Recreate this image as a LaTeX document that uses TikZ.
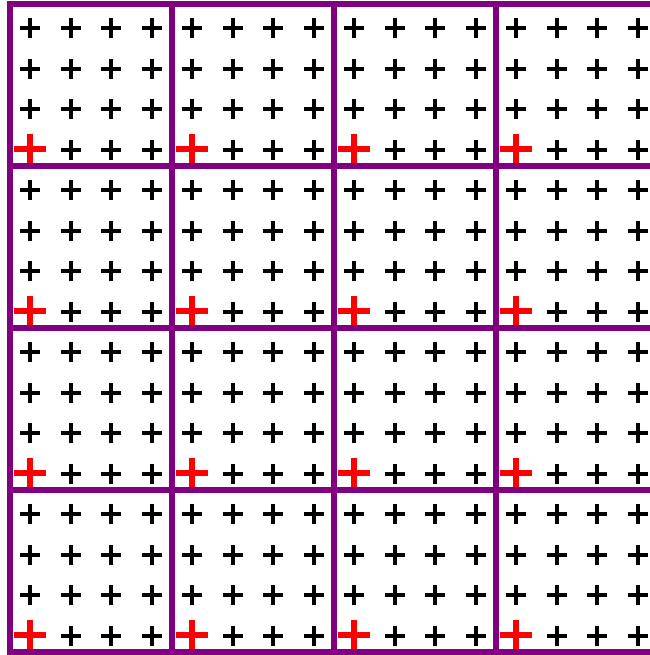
\documentclass[tikz,border=0pt]{standalone}

\definecolor{frame}{HTML}{800080}
\definecolor{origin}{HTML}{FF0000}

\begin{document}
\begin{tikzpicture}[
  x=1cm, y=1cm,
  line join=miter,
  frame/.style={draw=frame, line width=3.8pt, line cap=rect},
  cross/.style={draw=black, line width=2.8pt},
  corner/.style={draw=origin, line width=4.1pt},
]
\useasboundingbox (-0.247,-0.074) rectangle (15.802,16.099);
\clip (-0.247,-0.074) rectangle (15.802,16.099);
% small crosses, the first one of every block in red
\foreach \i in {0,...,15}
  \foreach \j in {0,...,15} {
    \pgfmathtruncatemacro{\first}{(mod(\i,4)==0)&&(mod(\j,4)==0)}
    \ifnum\first=1
      \draw[corner] (\i+0.49,\j+0.43) ++(-0.4,0) -- ++(0.8,0)
                    (\i+0.49,\j+0.43) ++(0,-0.37) -- ++(0,0.74);
    \else
      \draw[cross] (\i+0.5,\j+0.4) ++(-0.25,0) -- ++(0.5,0)
                   (\i+0.5,\j+0.4) ++(0,-0.25) -- ++(0,0.5);
    \fi
  }
% block frame
\foreach \k in {0,4,...,16} {
  \draw[frame] (\k,0) -- (\k,16);
  \draw[frame] (0,\k) -- (16,\k);
}
\end{tikzpicture}
\end{document}
